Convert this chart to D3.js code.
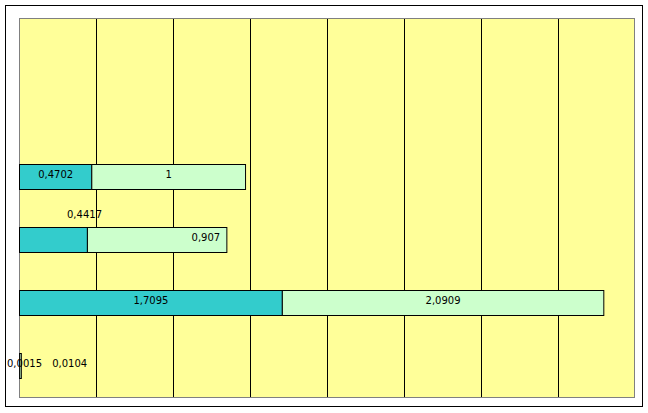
<!DOCTYPE html>
<html><head><meta charset="utf-8">
<script src="https://cdn.jsdelivr.net/npm/d3@7"></script>
<style>body{margin:0;background:#fff}svg{display:block}</style>
</head><body><svg id="c" width="648" height="413"></svg>
<script>
const categories = ["1","2","3","4","5","6"];
const series1 = [null, null, 0.4702, 0.4417, 1.7095, 0.0015];
const series2 = [null, null, 1, 0.907, 2.0909, 0.0104];
const seriesColors = ["#33CCCC", "#CCFFCC"];
const xTicks = [0,0.5,1,1.5,2,2.5,3,3.5,4];

const fmt = v => String(v).replace(".", ",");
const svg = d3.select("#c");
const L = 19.5, R = 634.5, T = 18.5, B = 397.5;

svg.append("rect").attr("x",5.5).attr("y",5.5).attr("width",637).attr("height",401)
  .attr("fill","#fff").attr("stroke","#000").attr("stroke-width",1);

const x = d3.scaleLinear().domain([0,4]).range([L,R]);
const y = d3.scaleBand().domain(categories).range([T,B]).paddingInner(0.6).paddingOuter(0.3);

svg.append("rect").attr("x",L).attr("y",T).attr("width",R-L).attr("height",B-T).attr("fill","#FFFF99");

svg.append("g").selectAll("line").data(xTicks.slice(1,-1)).join("line")
  .attr("x1",d=>Math.round(x(d))+0.5).attr("x2",d=>Math.round(x(d))+0.5)
  .attr("y1",T).attr("y2",B).attr("stroke","#000").attr("stroke-width",1);

svg.append("rect").attr("x",L).attr("y",T).attr("width",R-L).attr("height",B-T)
  .attr("fill","none").attr("stroke","#808080").attr("stroke-width",1);

const rows = categories.map((c,i)=>({c, a:series1[i], b:series2[i]})).filter(d=>d.a!=null);

const g = svg.append("g");
rows.forEach(d=>{
  const y0 = Math.round(y(d.c))+0.5, h = Math.round(y.bandwidth());
  const segs = [{v0:0,v1:d.a,col:seriesColors[0],val:d.a,s:0},{v0:d.a,v1:d.a+d.b,col:seriesColors[1],val:d.b,s:1}];
  segs.forEach(s=>{
    g.append("rect").attr("x",x(s.v0)).attr("y",y0).attr("width",Math.max(0,x(s.v1)-x(s.v0))).attr("height",h)
      .attr("fill",s.col).attr("stroke","#000").attr("stroke-width",1);
  });
  segs.forEach(s=>{
    let lx = (x(s.v0)+x(s.v1))/2, ly = y0 + h/2 - 2.5;
    // label placement adjustments to mimic the original's label collision handling
    if (d.c==="4" && s.s===0) { lx = x(s.v0) + 65; ly = y0 - 13; }
    else if (d.c==="4" && s.s===1) { lx = x(s.v1) - 21; }
    else if (d.c==="6" && s.s===0) { lx = x(s.v0) + 5; }
    else if (d.c==="6" && s.s===1) { lx = x(s.v0) + 50; }
    g.append("text").attr("x",lx).attr("y",ly).attr("text-anchor","middle").attr("dominant-baseline","central")
      .attr("font-family","DejaVu Sans").attr("font-size",10).attr("fill","#000").text(fmt(s.val));
  });
});
</script></body></html>
